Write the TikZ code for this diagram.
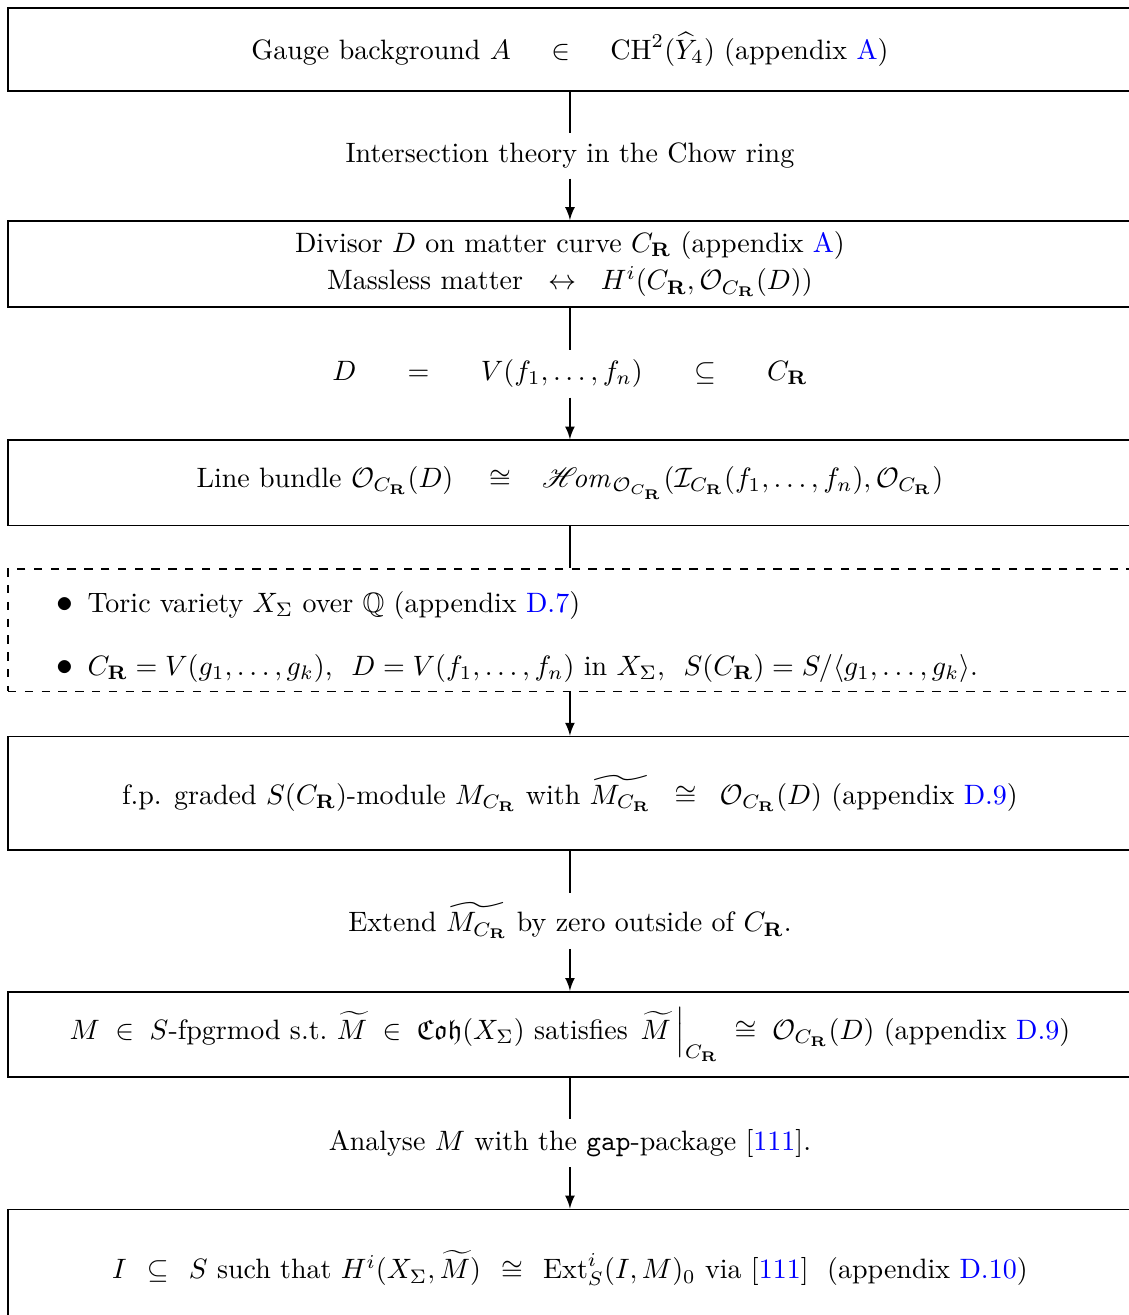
\documentclass[tikz,border=0pt]{standalone}
\usepackage{amsmath,amssymb}
\usepackage{mathrsfs}
\usepackage{xcolor}
\usetikzlibrary{positioning,arrows}
\definecolor{azul}{RGB}{0,0,255}
\newcommand{\CR}{C_{\mathbf{R}}}
\newcommand{\ap}[1]{\textcolor{azul}{#1}}
\renewcommand{\labelitemi}{\large$\bullet$}

\tikzset{
    caixa/.style={draw, semithick, minimum width=14.1cm, align=center},
    caixapont/.style={draw, semithick, dashed, minimum width=14.1cm, minimum height=1.54cm, inner ysep=0pt},
    seta/.style={-latex, semithick}
}

\begin{document}
\begin{tikzpicture}
    \clip (0,0) rectangle (14.163,-16.497);

    \node[caixa, minimum height=1.04cm] (gauge) at (7.15,-0.621) {%
        Gauge background $A \quad\,\in\,\quad \mathrm{CH}^2(\widehat{Y}_4)$ (appendix \ap{A})%
    };
    \node[caixa, minimum height=1.08cm, below=1.61cm of gauge] (divisor) {%
        Divisor $D$ on matter curve $\CR$ (appendix \ap{A})\\[1.5pt]
        Massless matter $\;\;\leftrightarrow\;\;$ $H^i(\CR, \mathcal{O}_{\CR}(D))$%
    };
    \node[caixa, minimum height=1.07cm, below=1.65cm of divisor] (feixe) {%
        Line bundle $\mathcal{O}_{\CR}(D) \quad\cong\quad\! \mathscr{H}\!\mathit{om}_{\mathcal{O}_{\CR}}(\mathcal{I}_{\CR}(f_1, \ldots, f_n), \mathcal{O}_{\CR})$%
    };
    \node[caixapont, below=0.52cm of feixe] (torica) {
      \begin{minipage}{13.86cm}
        \vspace*{5pt}
        \begin{itemize}\setlength{\itemsep}{6.5pt}
          \item Toric variety $X_\Sigma$ over $\mathbb{Q}$ (appendix \ap{D.7})
          \item $\CR = V(g_1, \ldots, g_k)$, \ $D = V(f_1, \ldots, f_n)$ in $X_\Sigma$, \ $S(\CR) = S/\langle g_1, \ldots, g_k \rangle$.
        \end{itemize}
      \end{minipage}
    };
    \node[caixa, minimum height=1.42cm, below=0.545cm of torica] (modulo) {%
        f.p. graded $S(\CR)$-module $M_{\CR}$ with $\widetilde{M_{\CR}} \;\;\cong\;\; \mathcal{O}_{\CR}(D)$ (appendix \ap{D.9})%
    };
    \node[caixa, minimum height=1.07cm, below=1.76cm of modulo] (coh) {%
        $M \;\in\; S$-fpgrmod s.t.\ $\widetilde{M} \;\in\; \mathfrak{Coh}(X_\Sigma)$ satisfies $\left.\widetilde{M}\,\right|_{\CR} \;\cong\; \mathcal{O}_{\CR}(D)$ (appendix \ap{D.9})%
    };
    \node[caixa, minimum height=1.48cm, below=1.64cm of coh] (ext) {%
        $I \;\,\subseteq\;\, S$ such that $H^i(X_\Sigma, \widetilde{M}) \;\,\cong\;\, \mathrm{Ext}^i_S(I, M)_0$ via [\ap{111}] \ (appendix \ap{D.10})%
    };

    \path (gauge) -- node (lbchow) {Intersection theory in the Chow ring} (divisor);
    \path (divisor) -- node (lbdiv) {$D \;\;\quad = \;\;\quad V(f_1, \ldots, f_n) \;\;\quad \subseteq \;\;\quad \CR$} (feixe);
    \path (modulo) -- node (lbext) {Extend $\widetilde{M_{\CR}}$ by zero outside of $\CR$.} (coh);
    \path (coh) -- node (lbgap) {Analyse $M$ with the \texttt{gap}-package [\ap{111}].} (ext);

    \draw[semithick] (gauge) -- (lbchow);
    \draw[seta] (lbchow) -- (divisor);
    \draw[semithick] (divisor) -- (lbdiv);
    \draw[seta] (lbdiv) -- (feixe);
    \draw[semithick] (feixe) -- (torica);
    \draw[seta] (torica) -- (modulo);
    \draw[semithick] (modulo) -- (lbext);
    \draw[seta] (lbext) -- (coh);
    \draw[semithick] (coh) -- (lbgap);
    \draw[seta] (lbgap) -- (ext);
\end{tikzpicture}
\end{document}
